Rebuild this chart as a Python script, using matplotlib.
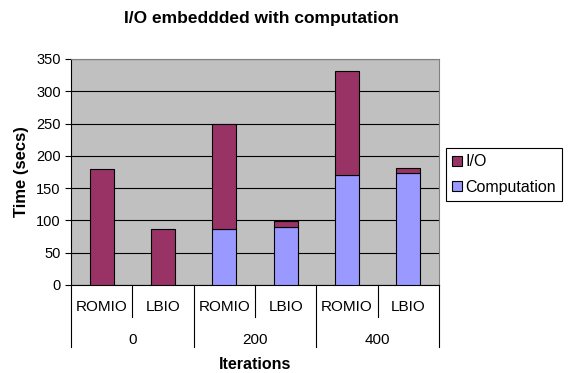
import numpy as np
import matplotlib.pyplot as plt
import matplotlib.transforms as mtransforms

plt.rcParams['font.family'] = ['Liberation Sans', 'DejaVu Sans']

# data: two-level categories (iterations / method)
methods = ['ROMIO', 'LBIO', 'ROMIO', 'LBIO', 'ROMIO', 'LBIO']
iterations = ['0', '200', '400']
computation = [0, 0, 86, 90, 171, 173]
io_time = [180, 86, 164, 9, 161, 8]

fig = plt.figure(figsize=(5.69, 3.73), dpi=100)
ax = fig.add_axes([0.1248, 0.236, 0.7715 - 0.1248, 0.842 - 0.236])
ax.set_facecolor('#C0C0C0')

x = np.arange(len(methods))
w = 0.39
ax.bar(x, computation, w, color='#9999FF', edgecolor='black', linewidth=0.8,
       label='Computation', zorder=3)
ax.bar(x, io_time, w, bottom=computation, color='#993366', edgecolor='black',
       linewidth=0.8, label='I/O', zorder=3)

ax.set_xlim(-0.5, len(methods) - 0.5)
ax.set_ylim(0, 350)
ax.set_yticks(range(0, 351, 50))
ax.tick_params(axis='y', labelsize=10.5, length=4, width=0.8, direction='out')
ax.set_xticks([])
ax.yaxis.grid(True, color='black', linewidth=0.8, zorder=1)
ax.set_axisbelow(True)

for s in ['top', 'right']:
    ax.spines[s].set_color('#808080')
    ax.spines[s].set_linewidth(0.8)
ax.spines['left'].set_linewidth(0.8)
ax.spines['bottom'].set_linewidth(0.8)

ax.set_ylabel('Time (secs)', fontsize=12, fontweight='bold', labelpad=5)
fig.text(261 / 569, 1 - 18 / 373, 'I/O embeddded with computation',
         ha='center', va='center', fontsize=12.5, fontweight='bold')

# two-level category axis
trans = mtransforms.blended_transform_factory(ax.transData, ax.transAxes)
for xi in [0.5, 2.5, 4.5]:
    ax.plot([xi, xi], [0, -0.142], color='black', linewidth=0.8,
            transform=trans, clip_on=False)
for xi in [-0.5, 1.5, 3.5, 5.5]:
    ax.plot([xi, xi], [0, -0.274], color='black', linewidth=0.8,
            transform=trans, clip_on=False)
for xi, m in zip(x, methods):
    ax.text(xi, -0.097, m, transform=trans, ha='center', va='center', fontsize=11)
for i, it in enumerate(iterations):
    ax.text(2 * i + 0.5, -0.243, it, transform=trans, ha='center', va='center',
            fontsize=11)
ax.text(2.5, -0.354, 'Iterations', transform=trans, ha='center', va='center',
        fontsize=11.5, fontweight='bold')

handles, labels = ax.get_legend_handles_labels()
leg = fig.legend(handles[::-1], labels[::-1], loc='upper left',
                 bbox_to_anchor=(446 / 569, 1 - 148 / 373), fontsize=11.5,
                 fancybox=False, edgecolor='black', framealpha=1,
                 handlelength=0.6, handleheight=0.6, handletextpad=0.2,
                 borderpad=0.4, labelspacing=0.65, borderaxespad=0)
leg.get_frame().set_linewidth(0.8)

fig.savefig('out.png', dpi=100)
